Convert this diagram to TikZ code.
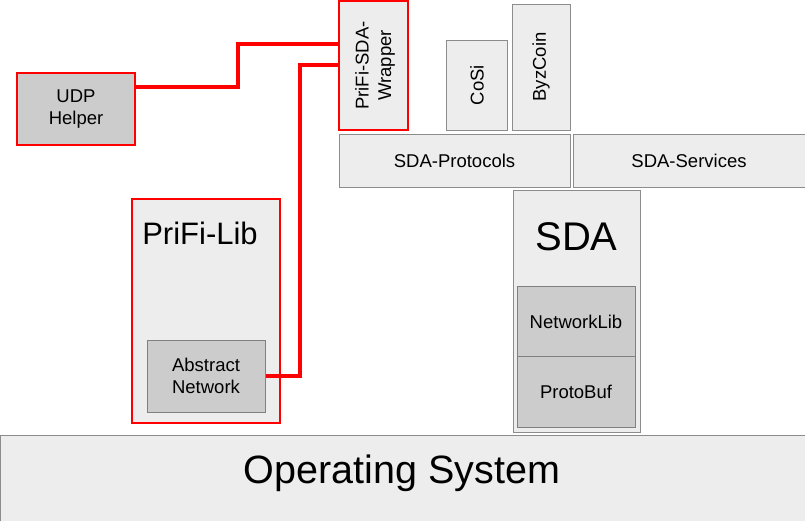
\documentclass[tikz,border=0pt]{standalone}
\usepackage{fontspec}
\setmainfont{Liberation Sans}
\begin{document}
\begin{tikzpicture}[x=1pt,y=-1pt,
  lite/.style={draw=black!45,fill=black!7,line width=1pt},
  dark/.style={draw=black!50,fill=black!20,line width=1pt},
  redbox/.style={draw=red,line width=1.8pt},
  wire/.style={draw=red,line width=3.6pt},
  small/.style={font=\fontsize{18.5}{22.5}\selectfont,align=center},
]
\useasboundingbox (0,0) rectangle (805,520);
% Operating system
\draw[lite] (0,435) rectangle (805,521);
\node[font=\fontsize{39.5}{44}\selectfont] (os) at (402,473) {Operating System};
% SDA stack
\draw[lite] (339,134) rectangle (570,187);
\node[small] (prot) at (454.5,160.5) {SDA-Protocols};
\draw[lite] (573,134) rectangle (806,187);
\node[small] (serv) at (689,160.5) {SDA-Services};
\draw[lite] (446,40) rectangle (507,130);
\node[small,rotate=90] (cosi) at (477,85) {CoSi};
\draw[lite] (512,4) rectangle (570,130);
\node[small,rotate=90] (byz) at (541,67) {ByzCoin};
\draw[lite] (513,190) rectangle (640,432);
\node[font=\fontsize{40}{44}\selectfont] (sda) at (576.5,237) {SDA};
\draw[dark] (517,286) rectangle (635,356);
\node[small] (nl) at (576,322) {NetworkLib};
\draw[dark] (517,356) rectangle (635,427);
\node[small] (pb) at (576,392) {ProtoBuf};
% PriFi
\draw[lite,redbox] (339,1) rectangle (408,130);
\node[small,rotate=90] (wrap) at (375,65.5) {PriFi-SDA-\\Wrapper};
\draw[dark,redbox] (17,73) rectangle (135,145);
\node[small] (udp) at (76,109) {UDP\\Helper};
\draw[lite,redbox] (132,199) rectangle (280,423);
\node[font=\fontsize{31}{36}\selectfont] (lib) at (200,233) {PriFi-Lib};
\draw[dark] (147,340) rectangle (265,412);
\node[small] (an) at (206,376) {Abstract\\Network};
% wires
\coordinate (udpR) at (136,87);
\coordinate (wrapL1) at (338,44);
\coordinate (anR) at (266,376);
\coordinate (wrapL2) at (338,65);
\draw[wire] (udpR) -| (238,44) -- (wrapL1);
\draw[wire] (anR) -| (300,65) -- (wrapL2);
\end{tikzpicture}
\end{document}
